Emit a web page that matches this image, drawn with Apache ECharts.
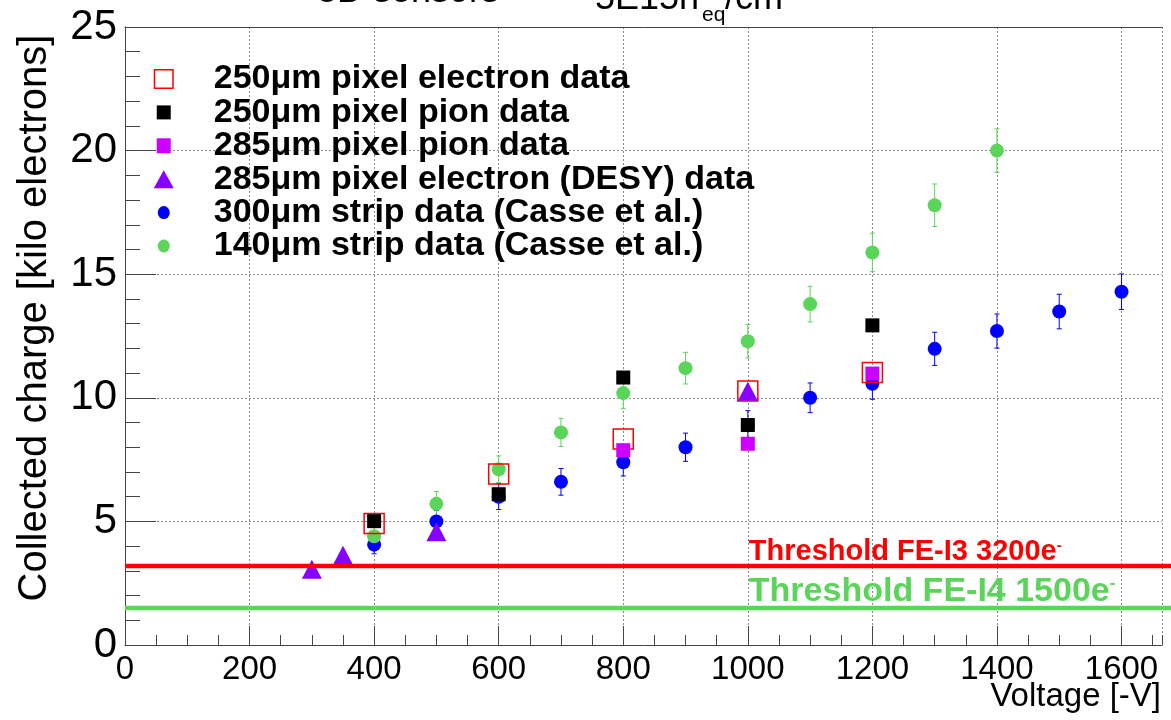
<!DOCTYPE html>
<html>
<head>
<meta charset="utf-8">
<script src="https://cdn.jsdelivr.net/npm/echarts@6/dist/echarts.min.js"></script>
<style>
  html, body { margin: 0; padding: 0; background: #ffffff; }
  #chart { width: 1171px; height: 720px; }
</style>
</head>
<body>
<div id="chart"></div>
<script>
// Axis ranges (kilo electrons vs bias voltage)
const X_MAX = 1665;
const X_STEP = 200;
const X_MINOR_STEP = 50;
const Y_MAX = 25;
const Y_STEP = 5;

// 250 um pixel, electron beam
const pixE250Volts = [400, 600, 800, 1000, 1200];
const pixE250Charge = [4.91, 6.92, 8.33, 10.28, 11.02];

// 250 um pixel, pion beam
const pixPi250Volts = [400, 600, 800, 1000, 1200];
const pixPi250Charge = [5.01, 6.10, 10.82, 8.90, 12.93];

// 285 um pixel, pion beam
const pixPi285Volts = [800, 1000, 1200];
const pixPi285Charge = [7.88, 8.14, 10.98];

// 285 um pixel, electrons at DESY
const pixDesy285Volts = [300, 350, 500, 1000];
const pixDesy285Charge = [3.06, 3.63, 4.58, 10.26];

// 300 um strips (Casse et al.)
const strip300Volts = [400, 500, 600, 700, 800, 900, 1000, 1100, 1200, 1300, 1400, 1500, 1600];
const strip300Charge = [4.06, 5.00, 6.00, 6.60, 7.39, 8.00, 8.90, 10.00, 10.57, 11.98, 12.70, 13.49, 14.29];
const strip300Err = [0.37, 0.45, 0.52, 0.54, 0.55, 0.57, 0.58, 0.60, 0.63, 0.67, 0.69, 0.70, 0.72];

// 140 um strips (Casse et al.)
const strip140Volts = [400, 500, 600, 700, 800, 900, 1000, 1100, 1200, 1300, 1400];
const strip140Charge = [4.40, 5.71, 7.11, 8.60, 10.19, 11.20, 12.29, 13.79, 15.88, 17.79, 20.00];
const strip140Err = [0.45, 0.50, 0.54, 0.57, 0.63, 0.64, 0.68, 0.72, 0.78, 0.86, 0.88];

// Front-end thresholds (kilo electrons)
const thresholdNames = ['FE-I3', 'FE-I4'];
const thresholdCharge = [3.2, 1.5];

const FONT = '"Liberation Sans", Arial, Helvetica, sans-serif';
const C_RED = '#ff0000';
const C_BLACK = '#000000';
const C_MAGENTA = '#cc00ff';
const C_VIOLET = '#8800ff';
const C_BLUE = '#0000ff';
const C_GREEN = '#5ad55a';
const AXIS_COLOR = '#444444';
const thresholdColors = [C_RED, C_GREEN];
const thresholdFont = [29, 34];

const NAMES = [
  '250\u03bcm pixel electron data',
  '250\u03bcm pixel pion data',
  '285\u03bcm pixel pion data',
  '285\u03bcm pixel electron (DESY) data',
  '300\u03bcm strip data (Casse et al.)',
  '140\u03bcm strip data (Casse et al.)'
];

const zip = (xs, ys) => xs.map((x, i) => [x, ys[i]]);

function errorBars(volts, vals, errs, color) {
  return {
    type: 'custom',
    xAxisIndex: 0,
    yAxisIndex: 0,
    silent: true,
    z: 2,
    data: volts.map((v, i) => [v, vals[i] - errs[i], vals[i] + errs[i]]),
    encode: { x: 0, y: [1, 2] },
    renderItem: (params, api) => {
      const lo = api.coord([api.value(0), api.value(1)]);
      const hi = api.coord([api.value(0), api.value(2)]);
      const cap = 2.5;
      const st = { stroke: color, lineWidth: 1 };
      return {
        type: 'group',
        children: [
          { type: 'line', shape: { x1: lo[0], y1: lo[1], x2: hi[0], y2: hi[1] }, style: st },
          { type: 'line', shape: { x1: lo[0] - cap, y1: lo[1], x2: lo[0] + cap, y2: lo[1] }, style: st },
          { type: 'line', shape: { x1: hi[0] - cap, y1: hi[1], x2: hi[0] + cap, y2: hi[1] }, style: st }
        ]
      };
    }
  };
}

function markers(name, volts, vals, symbol, size, itemStyle) {
  return {
    type: 'scatter',
    name: name,
    xAxisIndex: 0,
    yAxisIndex: 0,
    z: 3,
    symbol: symbol,
    symbolSize: size,
    itemStyle: Object.assign({ opacity: 1 }, itemStyle),
    emphasis: { disabled: true },
    data: zip(volts, vals)
  };
}

// legend icons: a 55x20 box (moveTo corners) holding the marker on the left
const BOX = 'M0 0M55 20';
const ICONS = [
  'path://' + BOX + 'M0.75 0.75H19.25V19.25H0.75Z',
  'path://' + BOX + 'M3 3H17V17H3Z',
  'path://' + BOX + 'M3 2.5H17V17.5H3Z',
  'path://' + BOX + 'M10 1L20 19L0 19Z',
  'path://' + BOX + 'M16 10A6 6.5 0 1 1 4 10A6 6.5 0 1 1 16 10Z',
  'path://' + BOX + 'M16 10A6 6.5 0 1 1 4 10A6 6.5 0 1 1 16 10Z'
];

const gridLine = { show: true, lineStyle: { color: '#8a8a8a', width: 1, type: [2, 2] } };

const option = {
  animation: false,
  backgroundColor: '#ffffff',
  grid: [
    { left: 125, right: 9, top: 27, bottom: 75, containLabel: false },
    { left: 125, right: 0, top: 27, bottom: 75, containLabel: false }
  ],
  xAxis: [
    {
      type: 'value', gridIndex: 0, position: 'bottom',
      min: 0, max: X_MAX, interval: X_STEP,
      axisLine: { show: true, lineStyle: { color: AXIS_COLOR, width: 1 } },
      axisTick: { show: true, inside: true, length: 19, lineStyle: { color: AXIS_COLOR } },
      axisLabel: {
        show: true, margin: 8, showMaxLabel: false, fontFamily: FONT, fontSize: 33, color: '#000',
        formatter: (v) => String(v)
      },
      splitLine: gridLine
    },
    {
      type: 'value', gridIndex: 0, position: 'bottom',
      min: 0, max: X_MAX, interval: X_MINOR_STEP,
      axisLine: { show: false },
      axisTick: { show: true, inside: true, length: 10, lineStyle: { color: AXIS_COLOR } },
      axisLabel: { show: false },
      splitLine: { show: false }
    },
    {
      type: 'value', gridIndex: 0, position: 'top',
      min: 0, max: X_MAX,
      axisLine: { show: true, lineStyle: { color: AXIS_COLOR, width: 1 } },
      axisTick: { show: false }, axisLabel: { show: false }, splitLine: { show: false }
    },
    {
      type: 'value', gridIndex: 1, min: 0, max: 1, show: false
    }
  ],
  yAxis: [
    {
      type: 'value', gridIndex: 0, position: 'left',
      min: 0, max: Y_MAX, interval: Y_STEP,
      axisLine: { show: true, lineStyle: { color: AXIS_COLOR, width: 1 } },
      axisTick: { show: true, inside: true, length: 31, lineStyle: { color: AXIS_COLOR } },
      minorTick: { show: true, splitNumber: 5, length: 15, lineStyle: { color: AXIS_COLOR } },
      axisLabel: { show: true, margin: 8, fontFamily: FONT, fontSize: 42, color: '#000' },
      splitLine: gridLine
    },
    {
      type: 'value', gridIndex: 0, position: 'right',
      min: 0, max: Y_MAX,
      axisLine: { show: true, lineStyle: { color: AXIS_COLOR, width: 1 } },
      axisTick: { show: false }, axisLabel: { show: false }, splitLine: { show: false }
    },
    {
      type: 'value', gridIndex: 1, min: 0, max: Y_MAX, show: false
    }
  ],
  legend: {
    orient: 'vertical',
    left: 148,
    top: 57,
    itemWidth: 55,
    itemHeight: 20,
    itemGap: -0.6,
    selectedMode: false,
    textStyle: { fontFamily: FONT, fontWeight: 'bold', fontSize: 34, lineHeight: 30, color: '#000' },
    data: NAMES.map((n, i) => (i === 0
      ? { name: n, icon: ICONS[i], itemStyle: { borderWidth: 1.5, borderColor: C_RED, color: 'rgba(0,0,0,0)' } }
      : { name: n, icon: ICONS[i] }))
  },
  series: [
    errorBars(strip300Volts, strip300Charge, strip300Err, C_BLUE),
    errorBars(strip140Volts, strip140Charge, strip140Err, C_GREEN),
    markers(NAMES[4], strip300Volts, strip300Charge, 'circle', 14, { color: C_BLUE }),
    markers(NAMES[5], strip140Volts, strip140Charge, 'circle', 14, { color: C_GREEN }),
    markers(NAMES[0], pixE250Volts, pixE250Charge, 'rect', 20,
      { color: 'rgba(0,0,0,0)', borderColor: C_RED, borderWidth: 1.5 }),
    markers(NAMES[1], pixPi250Volts, pixPi250Charge, 'rect', 14, { color: C_BLACK }),
    markers(NAMES[2], pixPi285Volts, pixPi285Charge, 'rect', 14, { color: C_MAGENTA }),
    markers(NAMES[3], pixDesy285Volts, pixDesy285Charge, 'triangle', [20, 19], { color: C_VIOLET })
  ].concat(thresholdCharge.map((q, i) => ({
    type: 'line',
    name: 'Threshold ' + thresholdNames[i],
    xAxisIndex: 3,
    yAxisIndex: 2,
    z: 4,
    silent: true,
    symbol: 'none',
    lineStyle: { color: thresholdColors[i], width: 4.5 },
    emphasis: { disabled: true },
    data: [[0, q], [1, q]]
  })))
};

const chart = echarts.init(document.getElementById('chart'), null, { renderer: 'canvas' });
chart.setOption(option);

// texts: partial title, axis titles and threshold labels
const graphics = [
  { type: 'text', x: 317, y: 10, style: { text: '3D sensors', font: '36px ' + FONT, fill: '#000', textVerticalAlign: 'bottom' } },
  { type: 'text', x: 595, y: 17, style: { text: '5E15n', font: '36px ' + FONT, fill: '#000', textVerticalAlign: 'bottom' } },
  { type: 'text', x: 702, y: 26, style: { text: 'eq', font: '21px ' + FONT, fill: '#000', textVerticalAlign: 'bottom' } },
  { type: 'text', x: 725, y: 17, style: { text: '/cm', font: '36px ' + FONT, fill: '#000', textVerticalAlign: 'bottom' } },
  { type: 'text', x: 784, y: -4, style: { text: '2', font: '21px ' + FONT, fill: '#000', textVerticalAlign: 'bottom' } },
  {
    type: 'text', x: 35, y: 318, rotation: Math.PI / 2,
    style: { text: 'Collected charge [kilo electrons]', font: '40px ' + FONT, fill: '#000', textAlign: 'center', textVerticalAlign: 'middle' }
  },
  {
    type: 'text', x: 1161, y: 697,
    style: { text: 'Voltage [-V]', font: '33px ' + FONT, fill: '#000', textAlign: 'right', textVerticalAlign: 'middle' }
  }
];

thresholdCharge.forEach((q, i) => {
  const p = chart.convertToPixel({ xAxisIndex: 0, yAxisIndex: 0 }, [1000, q]);
  const fs = thresholdFont[i];
  const col = thresholdColors[i];
  graphics.push({
    type: 'text',
    x: p[0] + 1,
    y: p[1] + 1,
    z: 10,
    style: {
      text: '{m|Threshold ' + thresholdNames[i] + ' ' + Math.round(q * 1000) + 'e}{s|-}',
      fill: col,
      textVerticalAlign: 'bottom',
      rich: {
        m: { fontFamily: FONT, fontWeight: 'bold', fontSize: fs, lineHeight: fs, fill: col },
        s: { fontFamily: FONT, fontWeight: 'bold', fontSize: Math.round(fs * 0.5), lineHeight: fs, verticalAlign: 'top', fill: col }
      }
    }
  });
});

chart.setOption({ graphic: graphics });
</script>
</body>
</html>
